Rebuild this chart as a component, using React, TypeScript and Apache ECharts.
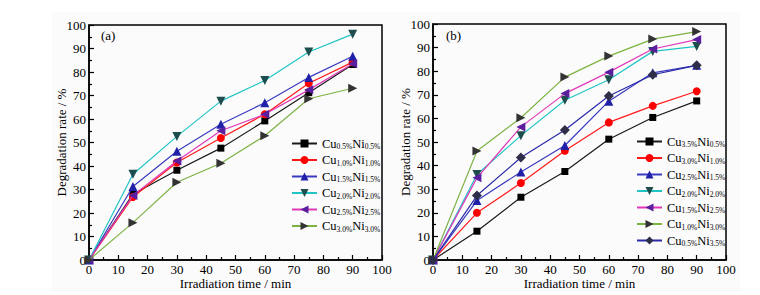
import React, { useEffect, useRef } from "react";
import * as echarts from "echarts";

const times = [0, 15, 30, 45, 60, 75, 90];

const leftLabels = [
  ["0.5%", "0.5%"],
  ["1.0%", "1.0%"],
  ["1.5%", "1.5%"],
  ["2.0%", "2.0%"],
  ["2.5%", "2.5%"],
  ["3.0%", "3.0%"],
];
const leftValues = [
  [0, 28.0, 38.2, 47.6, 59.2, 71.2, 83.2],
  [0, 26.8, 41.5, 51.9, 62.0, 75.2, 84.2],
  [0, 31.3, 46.3, 57.8, 66.9, 77.7, 86.7],
  [0, 36.5, 52.6, 67.6, 76.4, 88.5, 96.1],
  [0, 27.5, 42.1, 55.0, 62.0, 72.4, 83.5],
  [0, 15.9, 33.1, 41.2, 52.9, 68.6, 73.1],
];

const rightLabels = [
  ["3.5%", "0.5%"],
  ["3.0%", "1.0%"],
  ["2.5%", "1.5%"],
  ["2.0%", "2.0%"],
  ["1.5%", "2.5%"],
  ["1.0%", "3.0%"],
  ["0.5%", "3.5%"],
];
const rightValues = [
  [0, 12.2, 26.6, 37.5, 51.2, 60.4, 67.4],
  [0, 20.0, 32.6, 46.3, 58.3, 65.3, 71.5],
  [0, 25.2, 37.3, 48.5, 67.3, 79.3, 82.5],
  [0, 36.2, 52.7, 67.7, 76.4, 88.4, 90.5],
  [0, 34.8, 56.4, 70.5, 79.6, 89.4, 93.4],
  [0, 46.2, 60.3, 77.5, 86.4, 93.6, 96.8],
  [0, 27.3, 43.4, 55.1, 69.5, 78.5, 82.5],
];

const xAxisName = "Irradiation time / min";
const yAxisName = "Degradation rate / %";

const styles = [
  { line: "#1a1a1a", mark: "#000000", symbol: "rect", rot: 0, size: 7 },
  { line: "#ff1a1a", mark: "#ff0000", symbol: "circle", rot: 0, size: 8 },
  { line: "#3a3ac0", mark: "#2020a8", symbol: "triangle", rot: 0, size: 9 },
  { line: "#20c4c4", mark: "#1d4d4d", symbol: "triangle", rot: 180, size: 9 },
  { line: "#e038b8", mark: "#5a1f9e", symbol: "triangle", rot: 90, size: 9 },
  { line: "#7db343", mark: "#333333", symbol: "triangle", rot: -90, size: 9 },
  { line: "#2a2aa8", mark: "#2e2e48", symbol: "diamond", rot: 0, size: 10 },
];
const rightStyleIdx = [0, 1, 2, 3, 4, 5, 6];

const FONT = "Liberation Serif";

export default function App() {
  const ref = useRef<HTMLDivElement>(null);
  useEffect(() => {
    if (!ref.current) return;
    const chart = echarts.init(ref.current, undefined, { renderer: "svg" });

    const labelMap: Record<string, string[]> = {};
    const leftNames = leftLabels.map((l, i) => {
      const n = "a" + i;
      labelMap[n] = l;
      return n;
    });
    const rightNames = rightLabels.map((l, i) => {
      const n = "b" + i;
      labelMap[n] = l;
      return n;
    });

    const makeAxisX = (gi: number) => ({
      type: "value",
      gridIndex: gi,
      min: 0,
      max: 100,
      interval: 10,
      name: xAxisName,
      nameLocation: "middle",
      nameGap: 17,
      nameMoveOverlap: false,
      nameTextStyle: { fontFamily: FONT, fontSize: 13, color: "#000" },
      axisLine: { show: true, onZero: false, lineStyle: { color: "#000", width: 1.5 } },
      axisTick: { show: true, inside: true, length: 5, lineStyle: { color: "#000", width: 1.2 } },
      minorTick: { show: true, splitNumber: 2, length: 3, lineStyle: { color: "#000", width: 1.2 } },
      axisLabel: { margin: 3, fontFamily: FONT, fontSize: 13, color: "#000" },
      splitLine: { show: false },
    });
    const makeAxisY = (gi: number) => ({
      type: "value",
      gridIndex: gi,
      min: 0,
      max: 100,
      interval: 10,
      name: yAxisName,
      nameLocation: "middle",
      nameGap: 21,
      nameMoveOverlap: false,
      nameRotate: 90,
      nameTextStyle: { fontFamily: FONT, fontSize: 13, color: "#000" },
      axisLine: { show: true, onZero: false, lineStyle: { color: "#000", width: 1.5 } },
      axisTick: { show: true, inside: true, length: 5, lineStyle: { color: "#000", width: 1.2 } },
      minorTick: { show: true, splitNumber: 2, length: 3, lineStyle: { color: "#000", width: 1.2 } },
      axisLabel: { margin: 3, fontFamily: FONT, fontSize: 13, color: "#000" },
      splitLine: { show: false },
    });

    const makeSeries = (names: string[], values: number[][], gi: number, styleIdx: number[]) =>
      values.map((vals, i) => {
        const s = styles[styleIdx[i]];
        return {
          type: "line",
          name: names[i],
          xAxisIndex: gi,
          yAxisIndex: gi,
          data: times.map((t, j) => [t, vals[j]]),
          symbol: s.symbol,
          symbolRotate: s.rot,
          symbolSize: s.size,
          showAllSymbol: true,
          lineStyle: { color: s.line, width: 1.2 },
          itemStyle: { color: s.mark, borderWidth: 0 },
          z: 2 + i,
        };
      });

    const rich = {
      a: { fontFamily: FONT, fontSize: 12.5, color: "#000", lineHeight: 14 },
      s: { fontFamily: FONT, fontSize: 7.5, color: "#000", lineHeight: 5, verticalAlign: "bottom" },
    };
    const formatter = (name: string) => {
      const l = labelMap[name] || ["", ""];
      return `{a|Cu}{s|${l[0]}}{a|Ni}{s|${l[1]}}`;
    };

    const legendBase = {
      orient: "vertical",
      padding: 0,
      itemWidth: 25,
      itemHeight: 10,
      itemGap: 3,
      selectedMode: false,
      formatter,
      textStyle: { rich, fontFamily: FONT, color: "#000" },
    };

    chart.setOption({
      animation: false,
      backgroundColor: "#ffffff",
      graphic: [
        {
          type: "rect",
          shape: { x: 52, y: 12, width: 688, height: 280 },
          style: { fill: "#fbfbfb" },
          z: -10,
          silent: true,
        },
        {
          type: "text",
          left: 101,
          top: 29,
          style: { text: "(a)", fontFamily: FONT, fontSize: 13, fill: "#000" },
        },
        {
          type: "text",
          left: 446,
          top: 29,
          style: { text: "(b)", fontFamily: FONT, fontSize: 13, fill: "#000" },
        },
      ],
      grid: [
        { left: 89, top: 25, width: 293, height: 238, show: true, borderColor: "#000", borderWidth: 1.5, backgroundColor: "transparent" },
        { left: 433, top: 24, width: 293, height: 238, show: true, borderColor: "#000", borderWidth: 1.5, backgroundColor: "transparent" },
      ],
      xAxis: [makeAxisX(0), makeAxisX(1)],
      yAxis: [makeAxisY(0), makeAxisY(1)],
      legend: [
        { ...legendBase, left: 291, top: 137, data: leftNames },
        { ...legendBase, left: 636, top: 135, data: rightNames },
      ],
      series: [
        ...makeSeries(leftNames, leftValues, 0, [0, 1, 2, 3, 4, 5]),
        ...makeSeries(rightNames, rightValues, 1, rightStyleIdx),
      ],
    });
    return () => chart.dispose();
  }, []);

  return (
    <div
      ref={ref}
      style={{ position: "fixed", left: 0, top: 0, width: 760, height: 295 }}
    />
  );
}
